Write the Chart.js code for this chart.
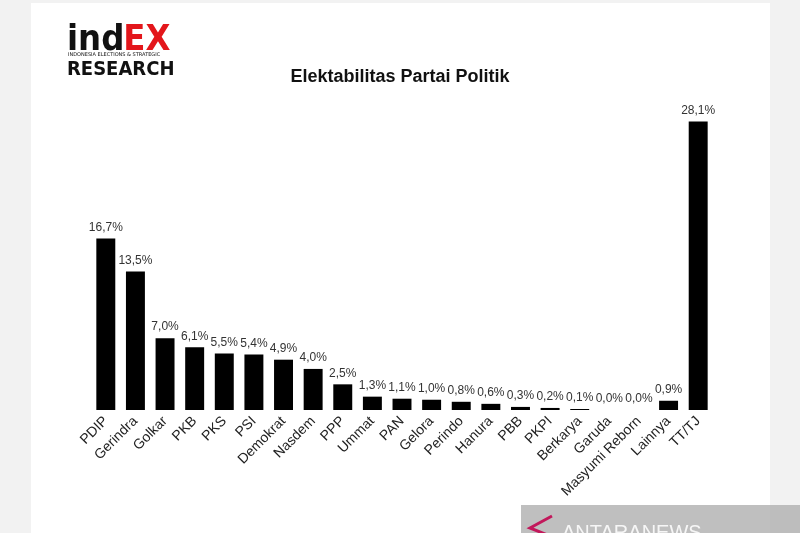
<!DOCTYPE html>
<html lang="id">
<head>
<meta charset="UTF-8">
<title>Elektabilitas Partai Politik</title>
<script src="https://cdn.jsdelivr.net/npm/chart.js"></script>
<style>
    html, body { margin: 0; padding: 0; background: #f2f2f2; }
    #wrap { width: 800px; height: 533px; }
</style>
</head>
<body>
<div id="wrap"><canvas id="chart" width="800" height="533"></canvas></div>
<script>
    // data
    const parties = ['PDIP', 'Gerindra', 'Golkar', 'PKB', 'PKS', 'PSI', 'Demokrat', 'Nasdem', 'PPP',
        'Ummat', 'PAN', 'Gelora', 'Perindo', 'Hanura', 'PBB', 'PKPI', 'Berkarya', 'Garuda',
        'Masyumi Reborn', 'Lainnya', 'TT/TJ'];
    const electability = [16.7, 13.5, 7.0, 6.1, 5.5, 5.4, 4.9, 4.0, 2.5, 1.3, 1.1, 1.0, 0.8, 0.6,
        0.3, 0.2, 0.1, 0.0, 0.0, 0.9, 28.1];

    const fmt = v => v.toFixed(1).replace('.', ',') + '%';

    // background, white panel, logo, title, watermark
    const decor = {
        id: 'decor',
        beforeDraw(chart) {
            const c = chart.ctx;
            c.save();
            c.fillStyle = '#f2f2f2';
            c.fillRect(0, 0, 800, 533);
            c.fillStyle = '#ffffff';
            c.fillRect(31, 3, 739, 530);

            // logo
            c.textBaseline = 'alphabetic';
            c.font = 'bold 36px "DejaVu Sans Condensed"';
            c.fillStyle = '#111';
            c.fillText('ind', 67, 50);
            const w = c.measureText('ind').width;
            c.fillStyle = '#e3161b';
            c.fillText('EX', 67 + w - 1, 50);
            c.fillStyle = '#111';
            c.font = '5px "DejaVu Sans"';
            c.fillText('INDONESIA ELECTIONS & STRATEGIC', 68, 56);
            c.font = 'bold 20px "DejaVu Sans Condensed"';
            c.fillText('RESEARCH', 67, 75);

            // title
            c.font = 'bold 18px "Liberation Sans"';
            c.textAlign = 'center';
            c.fillStyle = '#111';
            c.fillText('Elektabilitas Partai Politik', 400, 82);
            c.restore();
        },
        afterDraw(chart) {
            const c = chart.ctx;
            c.save();
            // data labels
            const meta = chart.getDatasetMeta(0);
            c.font = '12px "Liberation Sans"';
            c.fillStyle = '#333';
            c.textAlign = 'center';
            c.textBaseline = 'bottom';
            meta.data.forEach((bar, i) => {
                c.fillText(fmt(electability[i]), bar.x, bar.y - 5);
            });

            // watermark
            c.fillStyle = 'rgba(175,175,175,0.8)';
            c.fillRect(521, 505, 279, 28);
            c.strokeStyle = '#c2185b';
            c.lineWidth = 3;
            c.beginPath();
            c.moveTo(552, 516);
            c.lineTo(530, 528);
            c.lineTo(550, 536);
            c.stroke();
            c.font = '20px "Liberation Sans"';
            c.fillStyle = 'rgba(255,255,255,0.85)';
            c.textAlign = 'left';
            c.textBaseline = 'alphabetic';
            c.fillText('ANTARANEWS', 562, 539);
            c.restore();
        }
    };

    new Chart(document.getElementById('chart'), {
        type: 'bar',
        data: {
            labels: parties,
            datasets: [{
                data: electability,
                backgroundColor: '#000',
                borderWidth: 0,
                barPercentage: 0.64,
                categoryPercentage: 1.0
            }]
        },
        options: {
            responsive: false,
            animation: false,
            devicePixelRatio: 1,
            layout: { padding: { left: 91, right: 87, top: 102, bottom: 0 } },
            plugins: { legend: { display: false }, tooltip: { enabled: false } },
            scales: {
                x: {
                    grid: { display: false, drawTicks: false },
                    border: { display: false },
                    ticks: {
                        color: '#222',
                        font: { family: 'Liberation Sans', size: 14 },
                        maxRotation: 45,
                        minRotation: 45,
                        padding: 3,
                        autoSkip: false
                    },
                    afterFit(scale) { scale.height = 123; }
                },
                y: {
                    display: false,
                    min: 0,
                    max: 30
                }
            }
        },
        plugins: [decor]
    });
</script>
</body>
</html>
